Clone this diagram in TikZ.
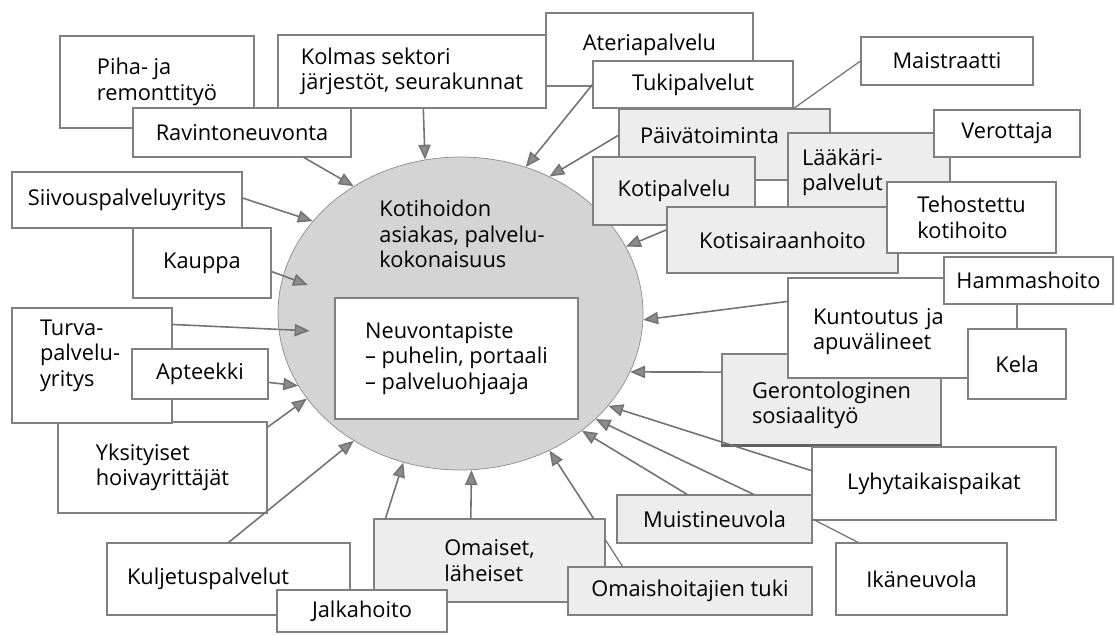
\documentclass[tikz,border=0pt]{standalone}
\usepackage{fontspec}
\setmainfont{Open Sans}
\usetikzlibrary{arrows.meta,shapes.geometric}

\tikzset{
  box/.style={draw=black!50, line width=0.6pt, fill=white, rectangle, inner sep=0pt, align=left, font=\fontsize{12.4}{14.5}\selectfont},
  graybox/.style={box, fill=black!7},
  sz/.style 2 args={minimum width=#1*0.02cm, minimum height=#2*0.02cm},
  tolink/.style={draw=black!55, line width=0.9pt, -{Triangle[length=8.5pt,width=7pt,fill=black!45]}},
  plainlink/.style={draw=black!55, line width=0.7pt},
}
% struts to move a text up (\lowstrut) or down (\highstrut) inside its box
\newcommand{\lowstrut}[1]{\rule[-#1]{0pt}{#1}}
\newcommand{\highstrut}[1]{\rule{0pt}{#1}}

\begin{document}
\begin{tikzpicture}[x=0.02cm, y=-0.02cm]
  \useasboundingbox (0,0) rectangle (1115,635);

  % centre
  \node[ellipse, draw=black!45, fill=black!17, sz={365}{313}] (asiakas) at (460.5,313.5) {};
  \node[align=left, font=\fontsize{12.4}{14.5}\selectfont] (kotihoidon) at (462,234) {Kotihoidon\\asiakas, palvelu-\\kokonaisuus};
  \node[box, sz={243}{121}] (neuvonta) at (456.5,358.5) {Neuvontapiste\\– puhelin, portaali\\– palveluohjaaja};

  % top
  \node[box, sz={194}{92}] (piha) at (157,82) {Piha- ja\\remonttityö};
  \node[box, sz={218}{49}] (ravinto) at (242,132.5) {Ravintoneuvonta};
  \node[box, sz={268}{73}] (kolmas) at (412,71.5) {Kolmas sektori\\järjestöt, seurakunnat};
  \node[box, sz={207}{73}] (ateria) at (649.5,49.5) {Ateriapalvelu\lowstrut{8pt}};
  \node[box, sz={200}{47}] (tuki) at (693,84.5) {Tukipalvelut};
  \node[box, sz={172}{48}] (maistraatti) at (947,61) {Maistraatti};

  % right
  \node[graybox, sz={211}{71}, text width=3.38cm, inner xsep=0.42cm] (paiva) at (724.5,144.5) {Päivätoiminta\lowstrut{9.8pt}};
  \node[graybox, sz={162}{68}] (koti) at (674,191) {Kotipalvelu};
  \node[graybox, sz={162}{79}, text width=2.68cm, inner xsep=0.28cm] (laakari) at (869,172.5) {Lääkäri-\\palvelut};
  \node[box, sz={146}{47}] (verottaja) at (1007,133.5) {Verottaja};
  \node[graybox, sz={231}{66}] (kotisair) at (782.5,240) {Kotisairaanhoito};
  \node[box, sz={169}{71}] (tehost) at (971.5,217.5) {Tehostettu\\kotihoito};
  \node[graybox, sz={219}{91}] (geronto) at (831.5,399.5) {\highstrut{16pt}Gerontologinen\\sosiaalityö};
  \draw[black!62, line width=1.4pt] (geronto.south west) -- (geronto.south east);
  \node[box, sz={229}{100}, text width=3.58cm, inner xsep=0.5cm] (kuntoutus) at (902.5,328) {\highstrut{13pt}Kuntoutus ja\\apuvälineet};
  \node[box, sz={169}{47}] (hammas) at (1028.5,280.5) {Hammashoito};
  \node[box, sz={98}{70}] (kela) at (1017,364) {Kela};
  \node[box, sz={244}{73}] (lyhyt) at (934,483.5) {Lyhytaikaispaikat};

  % bottom
  \node[graybox, sz={195}{48}] (muisti) at (714.5,519) {Muistineuvola};
  \node[box, sz={171}{72}] (ika) at (921.5,579) {Ikäneuvola};
  \node[graybox, sz={231}{83}] (omaiset) at (489.5,560.5) {Omaiset,\\läheiset};
  \node[graybox, sz={244}{48}] (omaish) at (690,591) {Omaishoitajien tuki};
  \node[box, sz={243}{72}, text width=4.06cm, inner xsep=0.4cm] (kulj) at (228.5,579) {Kuljetuspalvelut};
  \node[box, sz={170}{42}] (jalka) at (362,611) {Jalkahoito};

  % left
  \node[box, sz={209}{91}] (yks) at (162.5,467.5) {Yksityiset\\hoivayrittäjät};
  \node[box, sz={160}{115}, text width=2.08cm, inner xsep=0.56cm] (turva) at (92,365.5) {Turva-\\palvelu-\\yritys\lowstrut{14.4pt}};
  \node[box, sz={136}{50}] (apteekki) at (200,374) {Apteekki};
  \node[box, sz={138}{70}] (kauppa) at (202,263) {Kauppa};
  \node[box, sz={230}{56}] (siivous) at (127,200) {Siivouspalveluyritys};

  % arrows into the client
  \draw[tolink] (ravinto.-22) -- (asiakas.130.5);
  \draw[tolink] (kolmas.-73) -- (asiakas.103.3);
  \draw[tolink] (tuki.west) -- (asiakas.66.8);
  \draw[tolink] (paiva.175) -- (asiakas.57.1);
  \draw[tolink] (kotisair.175) -- (asiakas.22.4);
  \draw[tolink] (kuntoutus.167) -- (asiakas.-2.3);
  \draw[tolink] (geronto.166) -- (asiakas.-19.7);
  \draw[tolink] (lyhyt.174) -- (asiakas.-32);
  \draw[tolink] (muisti.32) -- (asiakas.-38.7);
  \draw[tolink] (muisti.138) -- (asiakas.-44.5);
  \draw[tolink] (omaiset.22) -- (asiakas.-57.3);
  \draw[tolink] (omaiset.114) -- (asiakas.-86.2);
  \draw[tolink] (omaiset.158) -- (asiakas.-111.7);
  \draw[tolink] (kulj.north) -- (asiakas.-130.2);
  \draw[tolink] (yks.21) -- (asiakas.-151.4);
  \draw[tolink] (apteekki.-7.5) -- (asiakas.-156.3);
  \draw[tolink, shorten >=-0.62cm] (turva.27) -- (asiakas.-175.2);
  \draw[tolink, shorten >=-0.53cm] (kauppa.-7.4) -- (asiakas.168.5);
  \draw[tolink] (siivous.1.5) -- (asiakas.148.3);

  % other links
  \draw[plainlink] (maistraatti.west) -- (tuki.south east);
  \draw[plainlink] (muisti.east) -- (ika.150);
  \draw[plainlink] (omaiset.10) -- (omaish.160);
\end{tikzpicture}
\end{document}
